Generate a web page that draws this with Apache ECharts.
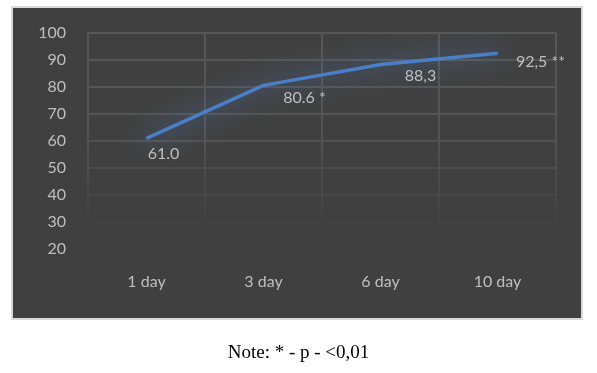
<!DOCTYPE html>
<html>
<head>
<meta charset="utf-8">
<script src="https://cdn.jsdelivr.net/npm/echarts@6/dist/echarts.min.js"></script>
<style>
html, body { margin: 0; padding: 0; background: #fff; }
#chart { width: 597px; height: 373px; }
</style>
</head>
<body>
<div id="chart"></div>
<script>
// data
var days = ['1 day', '3 day', '6 day', '10 day'];
var values = [61.0, 80.6, 88.3, 92.5];
var valueLabels = ['61.0', '80.6 *', '88,3', '92,5 **'];
var labelOffsets = [[17, 16], [41, 12], [40, 11], [43, 9]];
var noteText = 'Note: * - p - <0,01';

var chart = echarts.init(document.getElementById('chart'));

// grid lines fade out towards the bottom
var gridFade = new echarts.graphic.LinearGradient(0, 33, 0, 249, [
    { offset: 0, color: '#575757' },
    { offset: 0.5, color: '#535353' },
    { offset: 0.93, color: 'rgba(80,80,80,0)' },
    { offset: 1, color: 'rgba(80,80,80,0)' }
], true);

chart.setOption({
    backgroundColor: '#fff',
    animation: false,
    graphic: [{
        type: 'rect',
        z: -10,
        shape: { x: 12, y: 7, width: 570, height: 312 },
        style: { fill: '#404040', stroke: '#d9d9d9', lineWidth: 2 }
    }, {
        type: 'text',
        left: 'center',
        top: 344,
        style: {
            text: noteText,
            fill: '#000',
            font: '19px "Liberation Serif", "Times New Roman", serif'
        }
    }],
    grid: { left: 88, right: 41, top: 33, bottom: 124 },
    xAxis: {
        type: 'category',
        data: days,
        boundaryGap: true,
        axisLine: { show: false },
        axisTick: { show: false },
        axisLabel: { color: '#bfbfbf', fontSize: 16, fontFamily: 'Lato', margin: 25 },
        splitLine: { show: true, lineStyle: { color: gridFade, width: 2 } }
    },
    yAxis: {
        type: 'value',
        min: 20,
        max: 100,
        interval: 10,
        axisLine: { show: false },
        axisTick: { show: false },
        axisLabel: { color: '#bfbfbf', fontSize: 16, fontFamily: 'Lato', margin: 22 },
        splitLine: { lineStyle: { color: gridFade, width: 2 } }
    },
    series: [{
        type: 'line',
        data: values.map(function (v, i) {
            return {
                value: v,
                label: { offset: labelOffsets[i] }
            };
        }),
        symbol: 'circle',
        symbolSize: 1,
        itemStyle: { color: '#4a7fc7' },
        lineStyle: {
            color: '#4a7fc7',
            width: 3.5,
            shadowBlur: 24,
            shadowColor: 'rgba(80,140,225,0.95)'
        },
        label: {
            show: true,
            position: 'inside',
            color: '#bfbfbf',
            fontSize: 16,
            fontFamily: 'Lato',
            formatter: function (p) { return valueLabels[p.dataIndex]; }
        }
    }]
});
</script>
</body>
</html>
